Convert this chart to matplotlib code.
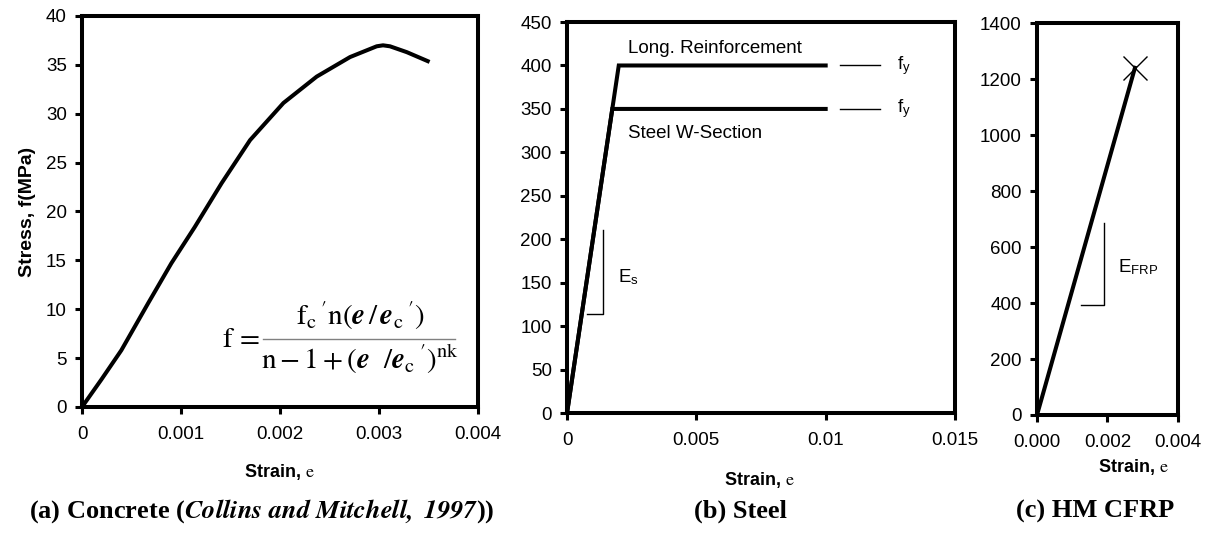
import numpy as np
import matplotlib
matplotlib.use('Agg')
import matplotlib.pyplot as plt

plt.rcParams['font.family'] = ['Liberation Sans', 'DejaVu Sans']
plt.rcParams['mathtext.fontset'] = 'stix'

# (a) concrete
conc_strain = [0, 0.000195, 0.000397, 0.000667, 0.000902, 0.001138, 0.00141, 0.001697,
               0.002034, 0.00237, 0.002707, 0.002976, 0.00304, 0.00311, 0.00328, 0.00351]
conc_stress = [0, 2.8, 5.8, 10.6, 14.7, 18.4, 22.9, 27.3,
               31.1, 33.8, 35.8, 36.9, 37.0, 36.9, 36.3, 35.3]

# (b) steel
long_strain = [0, 0.002, 0.01]
long_stress = [0, 400, 400]
wsec_strain = [0, 0.00175, 0.01]
wsec_stress = [0, 350, 350]

# (c) HM CFRP
frp_strain = [0, 0.00278]
frp_stress = [0, 1240]

a_xticks = [0, 0.001, 0.002, 0.003, 0.004]
a_xlabels = ['0', '0.001', '0.002', '0.003', '0.004']
b_xticks = [0, 0.005, 0.01, 0.015]
b_xlabels = ['0', '0.005', '0.01', '0.015']
c_xticks = [0, 0.002, 0.004]
c_xlabels = ['0.000', '0.002', '0.004']

LW = 2.9
FS = 13.5

fig = plt.figure(figsize=(12.15, 5.35), dpi=100)
ax1 = fig.add_axes([0.0675, 0.2393, 0.326, 0.7308])
ax2 = fig.add_axes([0.4667, 0.2280, 0.3193, 0.7308])
ax3 = fig.add_axes([0.8535, 0.2243, 0.1160, 0.7327])

def style(ax, xt, xl, ymax, ystep):
    for s in ax.spines.values():
        s.set_linewidth(LW)
    ax.set_xlim(xt[0], xt[-1])
    ax.set_xticks(xt)
    ax.set_xticklabels(xl)
    ax.set_ylim(0, ymax)
    ax.set_yticks(np.arange(0, ymax + 1, ystep))
    ax.tick_params(direction='out', length=5, width=2.2, labelsize=FS, pad=6)
    ax.tick_params(axis='x', pad=9)

# (a)
ax1.plot(conc_strain, conc_stress, color='black', lw=LW, clip_on=False,
         solid_joinstyle='round', solid_capstyle='butt')
style(ax1, a_xticks, a_xlabels, 40, 5)
ax1.set_ylabel('Stress, f(MPa)', fontsize=14, fontweight='bold', labelpad=7)
ax1.text(0.00141, 7.0, r'$\mathrm{f}\,=$', fontsize=21, ha='left', va='center')
ax1.text(0.00281, 9.3, r"$\mathrm{f_c\,' n}\left(\boldsymbol{e}\,/\,\boldsymbol{e}_\mathrm{c}\,'\right)$",
         fontsize=21, ha='center', va='center')
ax1.text(0.00281, 4.9, r"$\mathrm{n}-1+\left(\boldsymbol{e}\ \ /\boldsymbol{e}_\mathrm{c}\,'\right)^{\mathrm{nk}}$",
         fontsize=21, ha='center', va='center')
ax1.plot([0.00183, 0.00377], [6.96, 6.96], color='gray', lw=1.0, clip_on=False)

# (b)
ax2.plot(long_strain, long_stress, color='black', lw=LW, clip_on=False, solid_joinstyle='miter')
ax2.plot(wsec_strain, wsec_stress, color='black', lw=LW, clip_on=False, solid_joinstyle='miter')
style(ax2, b_xticks, b_xlabels, 450, 50)
ax2.text(0.00236, 420, 'Long. Reinforcement', fontsize=FS, ha='left', va='center')
ax2.text(0.00236, 322, 'Steel W-Section', fontsize=FS, ha='left', va='center')
for fy in (400, 350):
    ax2.plot([0.01055, 0.0121], [fy, fy], color='black', lw=1.0)
    ax2.text(0.01276, fy, r'f$_\mathregular{y}$', fontsize=FS, ha='left', va='center')
ax2.plot([0.00077, 0.00138, 0.00138], [114, 114, 211], color='black', lw=1.0)
ax2.text(0.00197, 156, r'E$_\mathregular{s}$', fontsize=FS, ha='left', va='center')

# (c)
ax3.plot(frp_strain, frp_stress, color='black', lw=LW, clip_on=False)
ax3.plot(frp_strain[-1:], frp_stress[-1:], marker='x', ms=17, mew=1.0, color='black',
         clip_on=False)
style(ax3, c_xticks, c_xlabels, 1400, 200)
ax3.plot([0.00124, 0.0019, 0.0019], [393, 393, 686], color='black', lw=1.0)
ax3.text(0.0023, 529, r'E$_\mathregular{FRP}$', fontsize=FS, ha='left', va='center')

# x labels and captions
for xc, yc in ((279, 472), (759, 480), (1133, 467)):
    fig.text(xc / 1215, 1 - yc / 535, r'Strain, $\mathrm{e}$', fontsize=13,
             fontweight='bold', ha='center', va='center')

cap_kw = dict(fontsize=19, fontweight='bold', family='Liberation Serif', va='center', ha='center')
fig.text(262 / 1215, 1 - 511 / 535,
         r'(a) Concrete ($\mathbfit{Collins\ and\ Mitchell,\ 1997}$))', **cap_kw)
fig.text(740 / 1215, 1 - 511 / 535, '(b) Steel', **cap_kw)
fig.text(1095 / 1215, 1 - 511 / 535, '(c) HM CFRP', **cap_kw)

fig.savefig('out.png', dpi=100)
